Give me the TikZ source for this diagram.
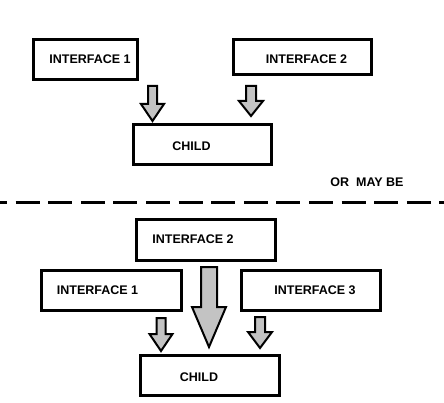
\documentclass[tikz,border=0pt]{standalone}
\usepackage{fontspec}
\setmainfont{Liberation Sans}
\usetikzlibrary{calc}
\definecolor{arrowgray}{RGB}{195,195,195}

\newcommand{\blockarrow}[5]{%
\filldraw[fat] ($(#1)+(-#3,0)$) -- ($(#2)+(-#3,-#5)$) -- ($(#2)+(-#4,-#5)$) -- (#2)
  -- ($(#2)+(#4,-#5)$) -- ($(#2)+(#3,-#5)$) -- ($(#1)+(#3,0)$) -- cycle;}

\begin{document}
\begin{tikzpicture}
[x=1pt,y=-1pt,
 box/.style={draw,line width=3pt,inner sep=0pt},
 lbl/.style={font=\bfseries\fontsize{12.5}{15}\selectfont,inner sep=0pt},
 fat/.style={draw=black,fill=arrowgray,line width=2pt,line join=miter}]
\useasboundingbox (0,0) rectangle (444,403);
% first case
\node[box,minimum width=104pt,minimum height=40pt] (i1) at (85.5,59.5) {};
\node[box,minimum width=138pt,minimum height=35pt] (i2) at (302.5,57) {};
\node[box,minimum width=138pt,minimum height=40pt] (c1) at (202.5,144.5) {};
\node[lbl] (i1t) at (90,59) {INTERFACE 1};
\node[lbl] (i2t) at (306.5,59) {INTERFACE 2};
\node[lbl] (c1t) at (191.5,146.5) {CHILD};
\node[lbl] (or) at (367,182.5) {OR~~MAY BE};
\draw[line width=3pt,dash pattern=on 24pt off 8.6pt,dash phase=17pt] (0,203) -- (444,203);
% second case
\node[box,minimum width=139pt,minimum height=41pt] (j2) at (206,240) {};
\node[box,minimum width=140pt,minimum height=40pt] (j1) at (111.5,290.5) {};
\node[box,minimum width=139pt,minimum height=40pt] (j3) at (311,290.5) {};
\node[box,minimum width=139pt,minimum height=40pt] (c2) at (210,375.5) {};
\node[lbl] (j2t) at (193,239) {INTERFACE 2};
\node[lbl] (j1t) at (97.5,290) {INTERFACE 1};
\node[lbl] (j3t) at (315,290) {INTERFACE 3};
\node[lbl] (c2t) at (199,377) {CHILD};
% arrow ends
\coordinate (a1) at ([xshift=67pt,yshift=-5pt]i1.south);
\coordinate (b1) at ($(a1 |- c1.north)+(0,-2)$);
\coordinate (a2) at ([xshift=-51.5pt,yshift=-10pt]i2.south);
\coordinate (b2) at ($(a2 |- c1.north)+(0,-7)$);
\coordinate (a3) at ([xshift=3pt,yshift=-5pt]j2.south);
\coordinate (b3) at ($(a3 |- c2.north)+(0,-7)$);
\coordinate (a4) at ([xshift=49.5pt,yshift=-6pt]j1.south);
\coordinate (b4) at ($(a4 |- c2.north)+(0,-3)$);
\coordinate (a5) at ([xshift=-51pt,yshift=-5pt]j3.south);
\coordinate (b5) at ($(a5 |- c2.north)+(0,-6)$);
\foreach \s/\e/\w/\h/\l in {a1/b1/4.5/11.5/17,a2/b2/5/12/15,a3/b3/8/17/40,a4/b4/4.5/11.5/17,a5/b5/5/12/16}
\blockarrow{\s}{\e}{\w}{\h}{\l};
\end{tikzpicture}
\end{document}
